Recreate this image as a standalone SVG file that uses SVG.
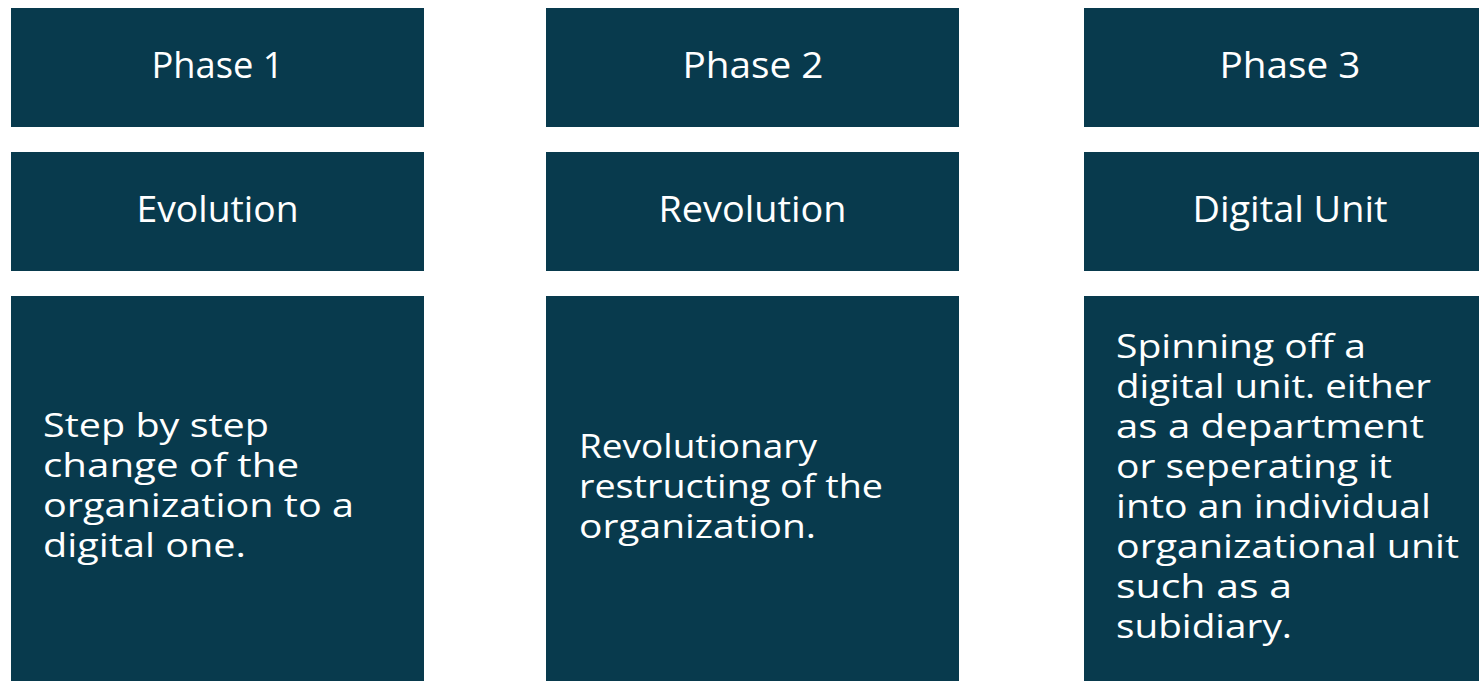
<svg xmlns="http://www.w3.org/2000/svg" width="1479" height="681" viewBox="0 0 1479 681">
<style>
.box{fill:#083a4d}
.t{font-family:"Open Sans","Noto Sans",sans-serif;fill:#ffffff}
.h{font-size:37px;text-anchor:middle}
.b{font-size:32px}
</style>
<rect width="1479" height="681" fill="#ffffff"/>
<g id="phase1"><rect class="box" x="11" y="8" width="413" height="119"/><text class="t h" x="217.5" y="78" textLength="132" lengthAdjust="spacingAndGlyphs">Phase 1</text></g>
<g id="phase2"><rect class="box" x="546" y="8" width="413" height="119"/><text class="t h" x="753" y="78" textLength="141" lengthAdjust="spacingAndGlyphs">Phase 2</text></g>
<g id="phase3"><rect class="box" x="1084" y="8" width="413" height="119"/><text class="t h" x="1290" y="78" textLength="141" lengthAdjust="spacingAndGlyphs">Phase 3</text></g>
<g id="evolution"><rect class="box" x="11" y="152" width="413" height="119"/><text class="t h" x="217.5" y="222" textLength="162" lengthAdjust="spacingAndGlyphs">Evolution</text></g>
<g id="revolution"><rect class="box" x="546" y="152" width="413" height="119"/><text class="t h" x="752.5" y="222" textLength="188" lengthAdjust="spacingAndGlyphs">Revolution</text></g>
<g id="digital-unit"><rect class="box" x="1084" y="152" width="413" height="119"/><text class="t h" x="1290" y="222" textLength="195" lengthAdjust="spacingAndGlyphs">Digital Unit</text></g>
<g id="desc1"><rect class="box" x="11" y="296" width="413" height="400"/>
<text class="t b"><tspan x="43" y="437" textLength="226" lengthAdjust="spacingAndGlyphs">Step by step</tspan><tspan x="43" y="477" textLength="256" lengthAdjust="spacingAndGlyphs">change of the</tspan><tspan x="43" y="517" textLength="311" lengthAdjust="spacingAndGlyphs">organization to a</tspan><tspan x="43" y="557" textLength="203" lengthAdjust="spacingAndGlyphs">digital one.</tspan></text></g>
<g id="desc2"><rect class="box" x="546" y="296" width="413" height="400"/>
<text class="t b"><tspan x="579" y="458" textLength="238" lengthAdjust="spacingAndGlyphs">Revolutionary</tspan><tspan x="579" y="498" textLength="304" lengthAdjust="spacingAndGlyphs">restructing of the</tspan><tspan x="579" y="538" textLength="237" lengthAdjust="spacingAndGlyphs">organization.</tspan></text></g>
<g id="desc3"><rect class="box" x="1084" y="296" width="413" height="400"/>
<text class="t b"><tspan x="1116" y="358" textLength="250" lengthAdjust="spacingAndGlyphs">Spinning off a</tspan><tspan x="1116" y="398" textLength="315" lengthAdjust="spacingAndGlyphs">digital unit. either</tspan><tspan x="1116" y="438" textLength="308" lengthAdjust="spacingAndGlyphs">as a department</tspan><tspan x="1116" y="478" textLength="276" lengthAdjust="spacingAndGlyphs">or seperating it</tspan><tspan x="1116" y="518" textLength="315" lengthAdjust="spacingAndGlyphs">into an individual</tspan><tspan x="1116" y="558" textLength="343" lengthAdjust="spacingAndGlyphs">organizational unit</tspan><tspan x="1116" y="598" textLength="176" lengthAdjust="spacingAndGlyphs">such as a</tspan><tspan x="1116" y="638" textLength="176" lengthAdjust="spacingAndGlyphs">subidiary.</tspan></text></g>
<g id="connectors"/>
</svg>
